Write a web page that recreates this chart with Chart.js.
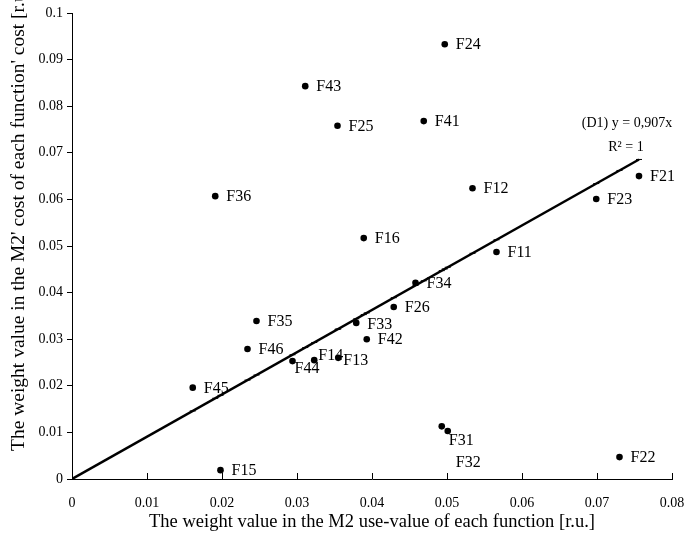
<!DOCTYPE html>
<html>
<head>
<meta charset="utf-8">
<script src="https://cdn.jsdelivr.net/npm/chart.js@4/dist/chart.umd.min.js"></script>
<style>
  body { margin: 0; background: #fff; }
  canvas { display: block; }
</style>
</head>
<body>
<canvas id="chart" width="684" height="540"></canvas>
<script>
// function codes and their weights (x: use-value, y: cost)
const labels = ['F24', 'F43', 'F25', 'F41', 'F36', 'F12', 'F16', 'F21', 'F23', 'F11', 'F34', 'F26',
    'F33', 'F42', 'F35', 'F46', 'F14', 'F44', 'F13', 'F45', 'F31', 'F32', 'F22', 'F15'];
const useValue = [0.0497, 0.0311, 0.0354, 0.0469, 0.0191, 0.0534, 0.0389, 0.0756, 0.0699, 0.0566, 0.0458, 0.0429,
    0.0379, 0.0393, 0.0246, 0.0234, 0.0323, 0.0294, 0.0355, 0.0161, 0.0493, 0.0501, 0.0730, 0.0198];
const costValue = [0.0933, 0.0843, 0.0758, 0.0768, 0.0607, 0.0624, 0.0517, 0.0650, 0.0601, 0.0487, 0.0421, 0.0369,
    0.0335, 0.0300, 0.0339, 0.0279, 0.0255, 0.0253, 0.0260, 0.0196, 0.0113, 0.0103, 0.0047, 0.0019];

const trendSlope = 0.907;
const trendText = ['(D1) y = 0,907x', 'R² = 1'];
const xTitle = 'The weight value in the M2 use-value of each function [r.u.]';
const yTitle = "The weight value in the M2' cost of each function' cost [r.u.]";

const serif = "'Liberation Serif', 'Times New Roman', serif";

// a few labels sit off the usual right-hand spot
const labelShift = {
    F14: [-7, -5], F44: [-9, 7], F13: [-6, 2], F33: [0, 1],
    F31: [-4, 13], F32: [-3, 31]
};

const points = labels.map((name, i) => ({ x: useValue[i], y: costValue[i] }));
const trendPoints = [{ x: 0, y: 0 }].concat(
    useValue.slice().sort((a, b) => a - b).map(x => ({ x: x, y: trendSlope * x })));

const decorations = {
    id: 'decorations',
    afterDraw(chart) {
        const ctx = chart.ctx;
        const xs = chart.scales.x;
        const ys = chart.scales.y;
        const area = chart.chartArea;
        ctx.save();
        ctx.fillStyle = '#000';
        ctx.strokeStyle = '#000';

        // x ticks point up into the plot
        ctx.lineWidth = 1;
        xs.ticks.forEach(t => {
            const px = Math.round(xs.getPixelForValue(t.value)) + 0.5;
            ctx.beginPath();
            ctx.moveTo(px, area.bottom);
            ctx.lineTo(px, area.bottom - 6);
            ctx.stroke();
        });

        // point labels
        ctx.font = '16px ' + serif;
        ctx.textBaseline = 'middle';
        ctx.textAlign = 'left';
        labels.forEach((name, i) => {
            const s = labelShift[name] || [0, 0];
            const px = xs.getPixelForValue(useValue[i]) + 11 + s[0];
            const py = ys.getPixelForValue(costValue[i]) + 1 + s[1];
            ctx.fillText(name, px, py);
        });

        // trendline equation
        ctx.font = '14px ' + serif;
        ctx.textAlign = 'center';
        ctx.fillText(trendText[0], 627, 123);
        ctx.fillText(trendText[1], 626, 147);

        // axis titles
        ctx.font = '18.5px ' + serif;
        ctx.fillText(xTitle, (area.left + area.right) / 2, 522);
        ctx.font = '19.5px ' + serif;
        ctx.translate(19, 451);
        ctx.rotate(-Math.PI / 2);
        ctx.textAlign = 'left';
        ctx.fillText(yTitle, 0, 0);
        ctx.restore();
    }
};

const tickFormat = v => String(Number(v.toFixed(2)));

new Chart(document.getElementById('chart'), {
    type: 'scatter',
    data: {
        datasets: [
            {
                label: 'D1',
                type: 'line',
                data: [trendPoints[0], trendPoints[trendPoints.length - 1]],
                borderColor: '#000',
                borderWidth: 2.5,
                pointRadius: 0,
                order: 2
            },
            {
                label: 'D1 marks',
                data: trendPoints.slice(1),
                pointStyle: 'line',
                pointRadius: 3,
                borderColor: '#000',
                borderWidth: 1,
                order: 1
            },
            {
                label: 'functions',
                data: points,
                pointStyle: 'circle',
                pointRadius: 3.3,
                backgroundColor: '#000',
                borderColor: '#000',
                borderWidth: 0,
                order: 0
            }
        ]
    },
    options: {
        responsive: false,
        animation: false,
        devicePixelRatio: 1,
        layout: { padding: { left: 0, top: 13, right: 12, bottom: 0 } },
        plugins: {
            legend: { display: false },
            tooltip: { enabled: false }
        },
        scales: {
            x: {
                type: 'linear',
                min: 0,
                max: 0.08,
                afterFit: scale => {
                    scale.height = 61;
                    scale.paddingLeft = 0;
                    scale.paddingRight = 0;
                },
                ticks: {
                    stepSize: 0.01,
                    color: '#000',
                    padding: 16,
                    font: { family: serif, size: 14 },
                    callback: tickFormat
                },
                grid: { drawOnChartArea: false, drawTicks: false },
                border: { color: '#000', width: 1 }
            },
            y: {
                type: 'linear',
                min: 0,
                max: 0.1,
                afterFit: scale => {
                    scale.width = 72;
                    scale.paddingTop = 0;
                    scale.paddingBottom = 0;
                },
                ticks: {
                    stepSize: 0.01,
                    color: '#000',
                    padding: 4,
                    font: { family: serif, size: 14 },
                    callback: tickFormat
                },
                grid: { drawOnChartArea: false, tickLength: 5, color: '#000' },
                border: { color: '#000', width: 1 }
            }
        }
    },
    plugins: [decorations]
});
</script>
</body>
</html>
